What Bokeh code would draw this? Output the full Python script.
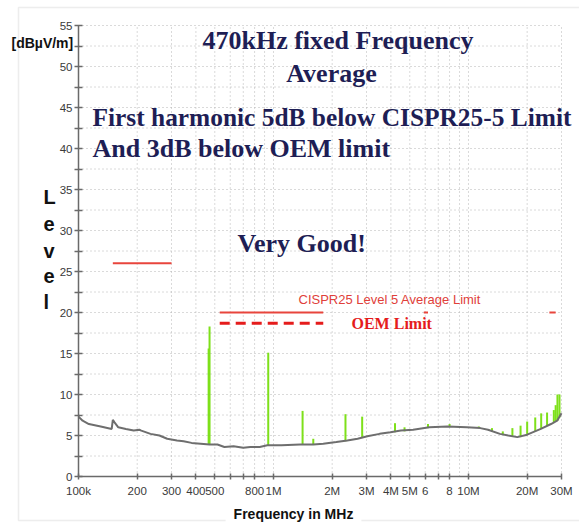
import math
from bokeh.plotting import figure
from bokeh.models import FixedTicker, Label, BoxAnnotation, Range1d
from bokeh.embed import file_html
from bokeh.resources import INLINE

# ---------------- data ----------------
trace_mhz = [0.1, 0.105, 0.113, 0.13, 0.148, 0.150, 0.153, 0.16, 0.175, 0.192, 0.205, 0.21,
             0.234, 0.26, 0.285, 0.32, 0.346, 0.38, 0.423, 0.47, 0.516, 0.56, 0.624, 0.7,
             0.76, 0.85, 0.93, 1.1, 1.37, 1.6, 1.8, 2.1, 2.39, 2.7, 3.03, 3.5, 3.98, 4.5,
             5.2, 6.3, 7.8, 9.8, 11.5, 12.6, 14.5, 16.0, 17.8, 20.0, 23.5, 26.5, 28.5, 30.0]
trace_db = [7.3, 6.8, 6.4, 6.1, 5.8, 6.9, 6.6, 6.0, 5.8, 5.6, 5.7, 5.6,
            5.2, 5.0, 4.6, 4.4, 4.3, 4.1, 4.0, 3.9, 3.9, 3.6, 3.7, 3.5,
            3.6, 3.6, 3.8, 3.8, 3.9, 3.9, 4.0, 4.2, 4.4, 4.6, 4.9, 5.2, 5.4, 5.6,
            5.7, 6.0, 6.1, 6.0, 5.9, 5.7, 5.2, 5.0, 4.8, 5.1, 5.8, 6.4, 6.8, 7.7]

spike_mhz = [0.465, 0.47, 0.94, 1.41, 1.6, 2.34, 2.85, 4.2, 4.7, 6.2, 8.0, 11.3,
             13.2, 15.0, 16.8, 18.5, 20.0, 22.0, 23.6, 25.3, 27.4, 28.0, 28.6, 29.3]
spike_base_db = [3.9, 3.9, 3.8, 3.9, 3.9, 4.3, 4.7, 5.4, 5.5, 5.9, 6.1, 5.9,
                 5.5, 5.1, 4.9, 4.8, 5.1, 5.5, 5.8, 6.2, 6.6, 6.7, 6.8, 7.2]
spike_top_db = [15.6, 18.3, 15.1, 8.0, 4.6, 7.6, 7.3, 6.5, 6.0, 6.4, 6.4, 6.1,
                5.9, 5.5, 5.9, 6.2, 6.7, 7.2, 7.7, 7.8, 8.1, 8.7, 10.0, 10.0]

cispr_start_mhz = [0.15, 0.53, 5.9, 26.0]
cispr_end_mhz = [0.30, 1.8, 6.2, 28.0]
cispr_db = [26, 20, 20, 20]

oem_start_mhz = [0.53]
oem_end_mhz = [1.8]
oem_db = [18.7]

x_min, x_max = 0.1, 30
y_min, y_max = 0, 55
x_ticks = [0.1, 0.2, 0.3, 0.4, 0.5, 0.6, 0.7, 0.8, 1, 2, 3, 4, 5, 6, 7, 8, 10, 20, 30]
x_tick_labels = ["100k", "200", "300", "400", "500", "", "", "800", "1M", "2M", "3M",
                 "4M", "5M", "6", "", "8", "10M", "20M", "30M"]
x_grid = [0.2, 0.3, 0.4, 0.5, 0.6, 0.7, 0.8, 0.9, 1, 2, 3, 4, 5, 6, 7, 8, 9, 10, 20, 30]
y_ticks = [0, 5, 10, 15, 20, 25, 30, 35, 40, 45, 50, 55]
y_minor = [2.5, 7.5, 12.5, 17.5, 22.5, 27.5, 32.5, 37.5, 42.5, 47.5, 52.5]
y_grid = [2.5, 5, 7.5, 10, 12.5, 15, 17.5, 20, 22.5, 25, 27.5, 30, 32.5, 35, 37.5,
          40, 42.5, 45, 47.5, 50, 52.5, 55]

# ---------------- layout (plot area in canvas pixels) ----------------
W, H = 579, 523
PL, PR, PT, PB = 78, 561, 25, 476       # plot area edges on the canvas
dec = math.log10(x_max / x_min)
px_per_dec = (PR - PL) / dec
px_per_db = (PB - PT) / (y_max - y_min)
xr = Range1d(x_min * 10 ** (-PL / px_per_dec), x_max * 10 ** ((W - PR) / px_per_dec))
yr = Range1d(y_min - (H - PB) / px_per_db, y_max + PT / px_per_db)

p = figure(width=W, height=H, x_axis_type="log", x_range=xr, y_range=yr,
           output_backend="svg", toolbar_location=None,
           min_border=0, min_border_left=0, min_border_right=0,
           min_border_top=0, min_border_bottom=0)
p.outline_line_color = None
p.background_fill_color = "white"
p.border_fill_color = "white"
p.xgrid.visible = False
p.ygrid.visible = False

# axes drawn at fixed data positions, bounded to the data area
p.xaxis.fixed_location = y_min
p.yaxis.fixed_location = x_min
p.xaxis.bounds = (x_min, x_max)
p.yaxis.bounds = (y_min, y_max)
p.xaxis.ticker = FixedTicker(ticks=x_ticks)
p.xaxis.major_label_overrides = {t: l for t, l in zip(x_ticks, x_tick_labels)}
p.yaxis.ticker = FixedTicker(ticks=y_ticks, minor_ticks=y_minor)
for ax in (p.xaxis, p.yaxis):
    ax.axis_line_color = "#6a6a6a"
    ax.axis_line_width = 1.5
    ax.major_tick_line_color = "#6a6a6a"
    ax.major_tick_line_width = 1.5
    ax.minor_tick_line_color = "#6a6a6a"
    ax.minor_tick_line_width = 1.5
    ax.major_label_text_font = "Liberation Sans"
    ax.major_label_text_font_size = "11.5px"
    ax.major_label_text_color = "#3a3a3a"
p.xaxis.major_tick_in = 3
p.xaxis.major_tick_out = 3
p.xaxis.minor_tick_in = 0
p.xaxis.minor_tick_out = 0
p.xaxis.major_label_standoff = 5
p.yaxis.major_tick_in = 4
p.yaxis.major_tick_out = 4
p.yaxis.minor_tick_in = 4
p.yaxis.minor_tick_out = 4
p.yaxis.major_label_standoff = 2

# dotted grid limited to the data area
grid_style = dict(line_color="#b4b4b4", line_dash="1 3", line_width=1)
p.segment(x0=x_grid, x1=x_grid, y0=[y_min] * len(x_grid), y1=[y_max] * len(x_grid), **grid_style)
p.segment(x0=[x_min] * len(y_grid), x1=[x_max] * len(y_grid), y0=y_grid, y1=y_grid, **grid_style)

# limits
p.segment(x0=cispr_start_mhz, x1=cispr_end_mhz, y0=cispr_db, y1=cispr_db,
          line_color="#e8453c", line_width=2)
p.segment(x0=oem_start_mhz, x1=oem_end_mhz, y0=oem_db, y1=oem_db,
          line_color="#e51c1c", line_width=3, line_dash="10 6")

# spikes + trace
p.segment(x0=spike_mhz, x1=spike_mhz, y0=spike_base_db, y1=spike_top_db,
          line_color="#7ee01a", line_width=2)
p.line(trace_mhz, trace_db, line_color="#6e6e6e", line_width=2)

# outer frame (canvas units, y measured from top)
p.add_layout(BoxAnnotation(left=18, right=640, top=7, bottom=520,
                           left_units="canvas", right_units="canvas",
                           top_units="canvas", bottom_units="canvas",
                           fill_alpha=0, line_color="#c4c4c4", line_width=1.5))

# ---------------- texts ----------------
navy = "#1e1e55"
serif = "Liberation Serif"
sans = "Liberation Sans"

def lab(px, py, text, align="left", font=serif, size=26, color=navy, style="bold", **kw):
    # py is the visual baseline on the canvas; correct for the renderer's baseline offset
    p.add_layout(Label(x=px, y=py - 0.33 * size, x_units="canvas", y_units="canvas",
                       text=text, text_align=align,
                       text_baseline="alphabetic", text_font=font, text_font_size=f"{size}px",
                       text_color=color, text_font_style=style, **kw))

lab(337.5, 48.5, "470kHz fixed Frequency", align="center")
lab(331, 82, "Average", align="center")
lab(92, 125, "First harmonic 5dB below CISPR25-5 Limit", size=25.4)
lab(92, 156.5, "And 3dB below OEM limit")
lab(237, 252, "Very Good!")
lab(298, 303.3, "CISPR25 Level 5 Average Limit", font=sans, size=13, color="#e0403a", style="normal")
lab(351, 328.3, "OEM Limit", size=16, color="#e51c1c")
lab(11, 46.7, "[dB\u00b5V/m]", font=sans, size=14, color="#111111")
for letter, base in zip(["L", "e", "v", "e", "l"], [203, 230, 257, 282, 308]):
    lab(43, base, letter, font=sans, size=20, color="#111111")
lab(293, 518, "Frequency in MHz", align="center", font=sans, size=14, color="#111111",
    background_fill_color="white", padding=8)

open("out.html", "w").write(file_html(p, INLINE))
